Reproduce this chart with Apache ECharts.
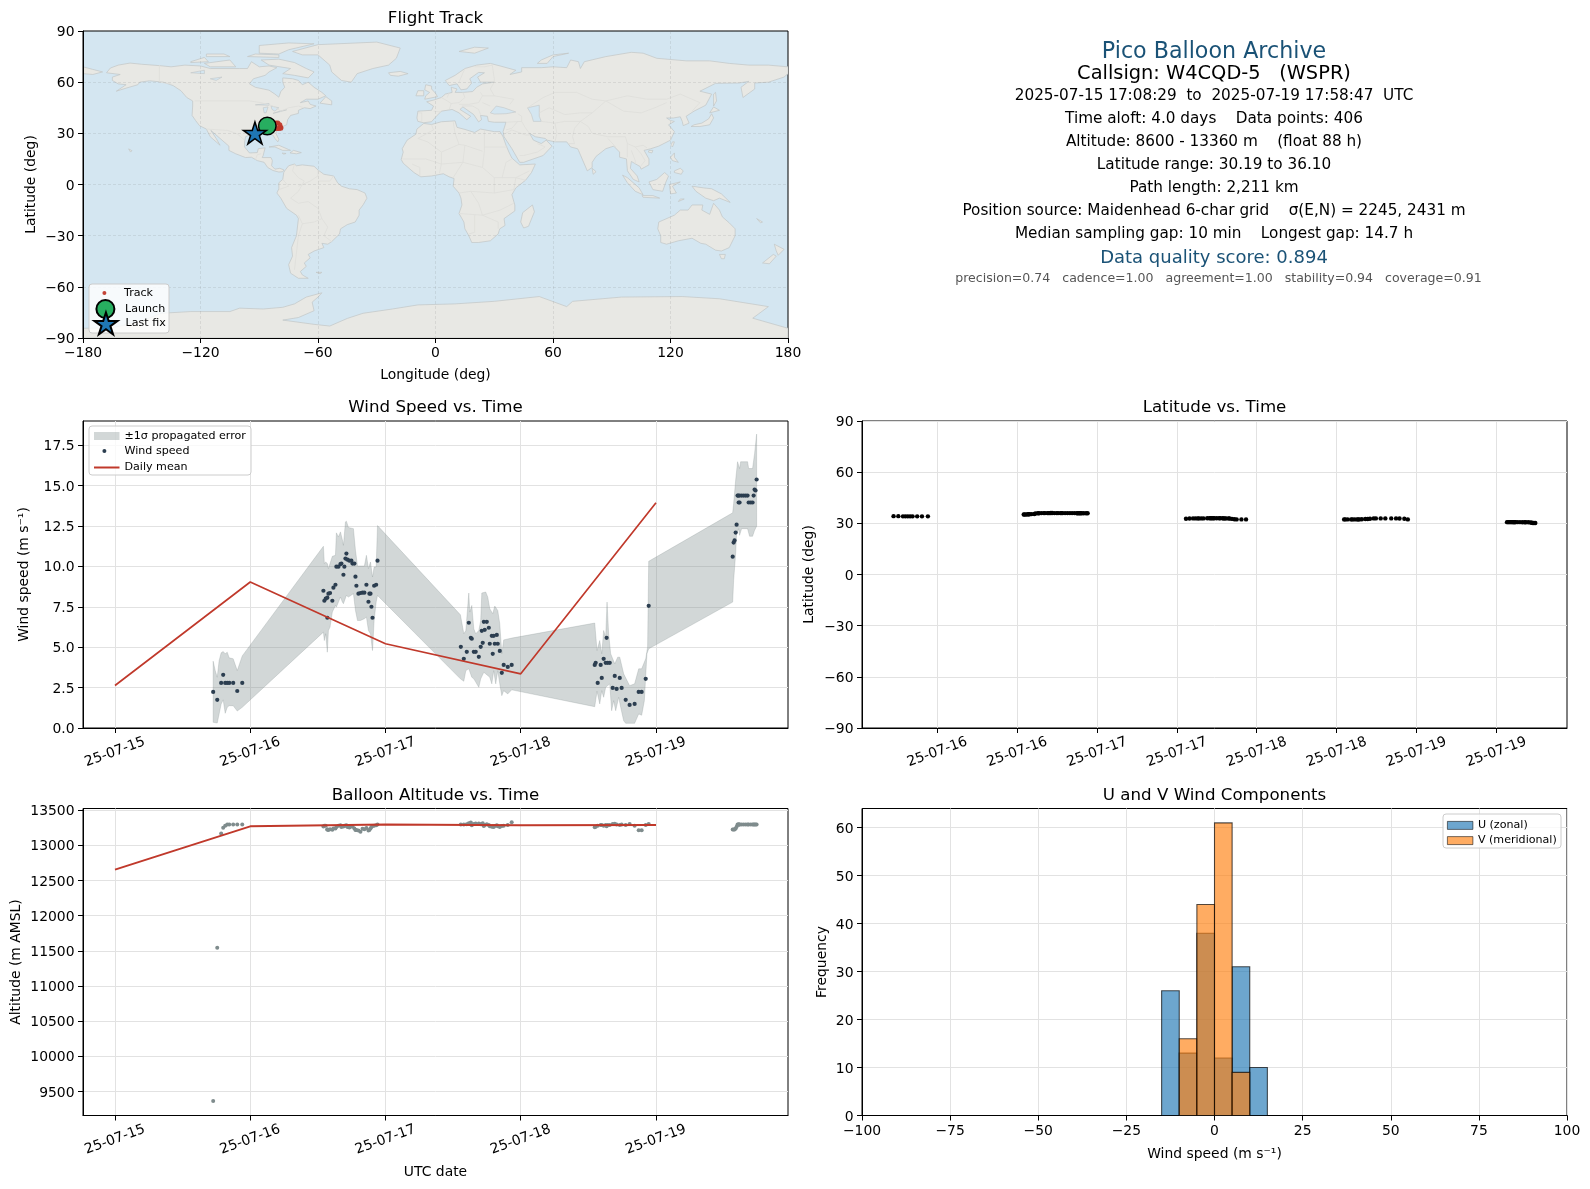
<!DOCTYPE html>
<html><head><meta charset="utf-8">
<style>html,body{margin:0;padding:0;background:#fff}#c{width:1590px;height:1189px}</style>
<script src="https://cdn.jsdelivr.net/npm/echarts@6/dist/echarts.min.js"></script>
</head><body><div id="c"></div>
<script>
// ---------- DATA ----------
const fixDays = [
 .726,.756,.785,.800,.815,.830,.845,.874,.904,.941,
 1.541,1.548,1.558,1.570,1.570,1.578,1.590,1.607,1.615,1.630,1.637,1.652,1.667,1.674,1.689,1.696,1.704,1.711,1.719,1.733,1.748,1.756,1.770,1.778,1.785,1.800,1.815,1.830,1.844,1.859,1.874,1.881,1.889,1.896,1.904,1.916,1.931,1.941,
 2.557,2.579,2.601,2.616,2.631,2.638,2.653,2.667,2.690,2.704,2.712,2.719,2.727,2.734,2.749,2.764,2.771,2.786,2.793,2.800,2.808,2.823,2.830,2.845,2.860,2.874,2.904,2.933,
 3.547,3.554,3.569,3.591,3.599,3.613,3.628,3.635,3.643,3.658,3.680,3.695,3.709,3.732,3.746,3.776,3.805,3.842,3.872,3.894,3.924,3.946,
 4.567,4.574,4.581,4.589,4.596,4.603,4.608,4.611,4.618,4.618,4.633,4.648,4.663,4.677,4.685,4.700,4.714,4.722,4.729,4.736,4.744];
const windSpeed = [
 2.23,1.74,2.79,3.29,2.79,2.79,2.79,2.79,2.29,2.79,
 8.49,7.87,8.0,8.06,6.82,8.31,8.35,7.87,8.68,8.86,9.98,9.98,10.14,10.17,9.48,9.98,10.48,10.79,10.41,10.35,10.35,10.17,10.17,9.36,8.80,8.31,8.35,8.37,8.37,8.86,7.81,8.31,8.31,7.50,6.82,8.80,8.86,10.35,
 5.02,4.28,4.71,6.51,5.58,5.52,4.71,4.71,4.40,5.02,6.01,5.27,6.57,6.07,6.57,6.20,5.21,5.70,4.59,5.70,5.21,5.76,5.21,4.77,3.41,3.90,3.78,3.90,
 3.90,4.03,2.79,3.90,3.10,4.28,4.03,5.58,4.03,4.03,2.48,3.22,2.42,3.10,2.48,1.74,1.43,1.49,2.23,2.23,3.04,7.56,
 10.6,11.47,11.6,12.09,12.58,14.38,14.38,13.95,13.95,14.38,14.38,14.38,14.38,14.38,13.95,13.95,13.95,14.38,14.75,14.69,15.37];
const latDeg = [
 34.2,34.2,34.1,34.1,34.1,34.1,34.1,34.1,34.1,34.1,
 35.2,35.2,35.2,35.3,35.3,35.3,35.4,35.5,35.8,35.9,35.9,36.0,36.0,36.0,36.0,36.0,36.0,36.1,36.1,36.0,36.0,36.0,36.0,36.0,36.0,36.0,36.0,36.0,36.0,36.0,35.9,35.9,35.9,35.9,35.9,35.9,35.9,35.9,
 32.7,32.8,32.9,32.9,32.9,32.9,32.9,32.9,33.0,33.0,33.0,33.0,33.0,33.0,33.0,33.0,33.0,33.0,32.9,32.9,32.9,32.9,32.8,32.6,32.4,32.3,32.3,32.3,
 32.3,32.3,32.3,32.3,32.3,32.3,32.3,32.3,32.3,32.4,32.5,32.5,32.7,32.9,32.9,32.9,32.9,32.9,32.9,32.8,32.7,32.3,
 30.7,30.7,30.7,30.7,30.7,30.7,30.7,30.7,30.7,30.7,30.7,30.7,30.6,30.6,30.6,30.6,30.5,30.3,30.2,30.2,30.19];
const altM = [
 9365,11545,13170,13250,13280,13295,13295,13295,13295,13295,
 13268,13278,13278,13225,13225,13220,13230,13222,13240,13240,13260,13278,13287,13260,13268,13278,13278,13287,13260,13255,13268,13268,13240,13220,13220,13210,13192,13235,13230,13245,13210,13220,13240,13260,13275,13280,13287,13295,
 13295,13295,13300,13315,13325,13285,13305,13310,13310,13300,13300,13315,13275,13290,13300,13290,13270,13265,13270,13260,13275,13285,13270,13260,13275,13280,13290,13330,
 13259,13264,13278,13288,13288,13278,13288,13273,13288,13288,13302,13307,13297,13288,13297,13288,13302,13278,13216,13216,13288,13302,
 13226,13226,13226,13240,13264,13297,13297,13297,13297,13297,13297,13297,13297,13297,13297,13297,13297,13297,13297,13297,13297];
const bandUpper = [[.726,4.13],[.741,3.55],[.756,3.14],[.770,4.17],[.785,4.65],[.800,4.73],[.815,4.59],[.830,4.69],[.844,4.34],[.874,4.28],[.904,3.55],[.941,4.46],
 [1.541,11.24],[1.548,10.17],[1.558,10.27],[1.570,10.17],[1.578,9.86],[1.590,10.17],[1.607,10.62],[1.630,10.68],[1.637,12.07],[1.652,11.82],[1.667,12.13],[1.681,11.65],[1.689,11.30],[1.704,12.75],[1.711,12.79],[1.726,12.40],[1.763,12.33],[1.778,10.99],[1.793,10.02],[1.815,10.02],[1.844,10.02],[1.859,10.68],[1.874,9.86],[1.889,10.27],[1.904,9.34],[1.916,9.96],[1.931,9.96],[1.941,12.52],
 [2.554,7.0],[2.579,5.83],[2.594,6.03],[2.616,8.35],[2.623,7.17],[2.638,7.58],[2.653,6.14],[2.667,5.83],[2.690,6.03],[2.704,6.65],[2.712,8.35],[2.741,8.41],[2.756,8.10],[2.771,7.38],[2.793,7.07],[2.808,7.54],[2.830,7.27],[2.845,6.45],[2.860,4.59],[2.874,5.45],[2.933,5.56],
 [3.547,6.49],[3.564,4.79],[3.584,5.41],[3.599,4.59],[3.613,6.03],[3.628,5.62],[3.638,7.79],[3.650,5.83],[3.665,4.59],[3.695,3.97],[3.717,4.38],[3.732,4.38],[3.761,3.35],[3.805,2.62],[3.842,2.73],[3.872,3.66],[3.894,3.66],[3.924,4.28],[3.938,5.0],[3.946,10.31],
 [4.567,13.31],[4.574,13.88],[4.589,15.33],[4.603,16.47],[4.618,16.05],[4.626,16.47],[4.677,16.47],[4.685,16.05],[4.714,16.05],[4.729,16.98],[4.744,18.18]];
const bandLower = [[.726,.35],[.756,.31],[.770,.87],[.785,1.49],[.800,1.74],[.815,.91],[.830,1.28],[.844,1.38],[.874,1.38],[.904,1.05],[.941,1.28],
 [1.541,5.93],[1.548,5.41],[1.558,5.83],[1.570,4.69],[1.578,6.03],[1.590,6.24],[1.607,7.17],[1.630,7.58],[1.637,7.48],[1.667,8.10],[1.681,7.79],[1.689,7.69],[1.711,8.20],[1.726,8.10],[1.763,8.31],[1.778,7.27],[1.793,6.65],[1.815,6.65],[1.844,6.76],[1.859,6.86],[1.874,6.03],[1.889,5.83],[1.904,4.79],[1.916,6.65],[1.931,7.79],[1.941,8.20],
 [2.554,3.04],[2.579,2.89],[2.594,3.55],[2.616,3.66],[2.638,3.14],[2.653,3.04],[2.690,2.52],[2.704,3.04],[2.727,3.45],[2.771,3.14],[2.786,2.73],[2.800,3.55],[2.815,2.73],[2.830,3.55],[2.845,2.73],[2.860,2.0],[2.874,2.31],[2.904,2.11],[2.933,2.36],
 [3.547,1.32],[3.564,2.27],[3.584,1.49],[3.599,2.31],[3.613,1.90],[3.628,2.52],[3.658,2.73],[3.672,1.07],[3.687,1.69],[3.702,1.07],[3.724,1.90],[3.739,1.28],[3.761,.45],[3.776,.29],[3.842,.29],[3.872,.87],[3.894,.79],[3.914,1.69],[3.933,4.59],[3.946,4.90],
 [4.567,7.79],[4.574,9.13],[4.589,10.79],[4.596,12.02],[4.611,12.33],[4.618,11.92],[4.633,12.33],[4.677,12.33],[4.692,11.86],[4.714,11.86],[4.729,12.23],[4.744,12.48]];
const meanDays = [0,1,2,3,4];
const windMean = [2.63,9.03,5.21,3.35,13.93];
const altMean = [12655,13270,13295,13285,13288];
const dayTickValues = [0,1,2,3,4];
const dayTickLabels = ['25-07-15','25-07-16','25-07-17','25-07-18','25-07-19'];
const latTickValues = [1,1.5,2,2.5,3,3.5,4,4.5];
const latTickLabels = ['25-07-16','25-07-16','25-07-17','25-07-17','25-07-18','25-07-18','25-07-19','25-07-19'];
const binEdges = [-15,-10,-5,0,5,10,15];
const uCounts = [26,13,38,12,31,10];
const vCounts = [0,16,44,61,9,0];
const trackLon = [-85.9,-84.5,-83,-82,-81.5,-80.5,-79.5,-79,-79,-80,-81,-82.5,-84,-85.5,-87,-88.5,-89.5,-91,-92.2];
const trackLat = [34.3,34.2,34.5,35.5,36.1,36,35,33.5,33,32.8,32.9,32.8,32.5,32.3,32.3,32.4,31.5,30.6,30.2];
const launchPoint = [-85.9,34.3];
const lastFixPoint = [-92.2,30.2];
const infoLines = [
 ['Pico Balloon Archive',52,22.2,'#1a5276',1214],
 ['Callsign: W4CQD-5   (WSPR)',74,19.4,'#000',1214],
 ['2025-07-15 17:08:29  to  2025-07-19 17:58:47  UTC',96,15.25,'#000',1214],
 ['Time aloft: 4.0 days    Data points: 406',119,15.25,'#000',1214],
 ['Altitude: 8600 - 13360 m    (float 88 h)',142,15.25,'#000',1214],
 ['Latitude range: 30.19 to 36.10',165,15.25,'#000',1214],
 ['Path length: 2,211 km',188,15.25,'#000',1214],
 ['Position source: Maidenhead 6-char grid    σ(E,N) = 2245, 2431 m',211,15.25,'#000',1214],
 ['Median sampling gap: 10 min    Longest gap: 14.7 h',234,15.25,'#000',1214],
 ['Data quality score: 0.894',258.5,18,'#1a5276',1214],
 ['precision=0.74   cadence=1.00   agreement=1.00   stability=0.94   coverage=0.91',279,12.55,'#555',1218.5],
];
const landPolys = [
 [[-168,65.5],[-166,68.3],[-162,70],[-156,71.2],[-150,70.5],[-141,69.7],[-135,69],[-128,70],[-120,69.5],[-115,68],[-108,68],[-100,68],[-96,68],[-94,72],[-90,69],[-85,69.5],[-81,68.5],[-85,66],[-87,64],[-93,62],[-95,59],[-92,57],[-85,55.3],[-82,53],[-80,51.2],[-79,54.5],[-77,57],[-78,60],[-78,62.5],[-73,62],[-70,61],[-68,58.5],[-65,60],[-62,57],[-58,54],[-56,52],[-60,50],[-66,50],[-69,48],[-65,49],[-64,47],[-61,46],[-64,44.5],[-67,45],[-70,43.5],[-70,41.7],[-74,40.5],[-75.5,38],[-76,35],[-78,34],[-81,31.5],[-81.5,30],[-80,26.5],[-80.5,25],[-82,27],[-83,29],[-85,29.7],[-89,30],[-90,29],[-94,29.5],[-97,28],[-97.5,25],[-97.5,22],[-95,18.5],[-91,18.7],[-90.5,21],[-87,21.5],[-88,17],[-88.5,15.8],[-84,15.8],[-83.3,14],[-83.7,11],[-82,9],[-79.5,9.5],[-77.3,8.5],[-78,7.5],[-80,7.3],[-83,8.2],[-85.7,10],[-87.5,13],[-91,14],[-94,16],[-97,15.8],[-102,18],[-105.5,20],[-105.5,22.5],[-109,26],[-112.5,29.5],[-114.7,31.7],[-112,27],[-110,23],[-112,25],[-115,28],[-117,32.5],[-120.5,34.5],[-122.5,37.5],[-124.3,40.5],[-124,46],[-124,49],[-127,51],[-130,55],[-134,58],[-139,60],[-146,60.8],[-151,60],[-152,58.5],[-158,56.5],[-163,54.7],[-158,58.5],[-162,59],[-165,61],[-165,63],[-161,64.5]],
 [[-180,65],[-175,64.5],[-170,66],[-175,67.5],[-180,69]],
 [[-73,78],[-60,82],[-30,83.5],[-18,80],[-20,74],[-24,70],[-32,68],[-40,65],[-43,60],[-48,61],[-53,66],[-54,70],[-60,76],[-68,76]],
 [[-80,73.5],[-72,71.5],[-66,68],[-62,66],[-65,62.5],[-72,64],[-78,65],[-74,68],[-85,70],[-89,73]],
 [[-118,71],[-105,73],[-102,69],[-115,69]],
 [[-90,77],[-80,76.5],[-75,79],[-62,82.5],[-75,83],[-90,81.5]],
 [[-125,72],[-118,74.5],[-116,72],[-125,71.5]],
 [[-96,75],[-80,74.5],[-80,76],[-92,76.5]],
 [[-117,75],[-105,75],[-108,76.5],[-117,76.5]],
 [[-59,47.7],[-53,46.7],[-53,49],[-56,51.5]],
 [[-85,22],[-80,23],[-75,20.5],[-74,20],[-78,20],[-82,22]],
 [[-74.3,18.5],[-72.5,20],[-68.5,18.7],[-71,18]],
 [[-78.3,18.4],[-76.3,18.2],[-77.5,17.8]],
 [[-156.7,20.9],[-155,19.8],[-155.7,19]],
 [[-77,8],[-75,11],[-72,12],[-71,11],[-68,11.5],[-62,10.7],[-60,8.5],[-57,6],[-52,5],[-50,1],[-48,-1],[-44,-2.5],[-40,-3],[-36,-5],[-35,-8],[-37,-12],[-39,-15],[-39,-18],[-41,-22],[-45,-23.5],[-48.5,-26],[-49,-29],[-53,-33.5],[-55,-35],[-58,-34.5],[-57,-37],[-62,-39],[-65,-41],[-64,-43],[-67,-46],[-66,-48],[-69,-51],[-68,-53],[-65,-55],[-70,-55],[-74,-52],[-75,-47],[-73,-42],[-73.5,-37],[-71,-30],[-70,-20],[-71,-18],[-76,-14],[-79,-8],[-81,-5],[-80,-2.5],[-80,1],[-78,3],[-77.5,7]],
 [[-6,35.8],[-2,35.2],[3,36.8],[10,37.3],[11,33.5],[15,32.3],[20,30.5],[23,32.5],[30,31],[33,31],[34.5,28],[36,23],[37.5,19],[39,15.5],[43,11.5],[51,12],[49,7],[46,2.5],[41,-2],[39,-6],[40.5,-12],[40.5,-15.5],[35,-20],[35.5,-24],[32.8,-26],[32,-29],[28,-33],[22,-34],[18.5,-34],[17,-30],[15,-26],[14.5,-22],[12,-17],[13.5,-12],[13,-8],[12,-5],[9,-1],[9.5,3.5],[7,4.5],[4,6.3],[-2,5],[-7.5,4.5],[-11,7],[-13.5,9.5],[-16.5,12.5],[-17.5,14.7],[-16.5,19],[-17,21],[-14.5,26],[-10,29.5],[-9.5,32.5]],
 [[49.5,-12],[50.5,-16],[47.5,-24.5],[45,-25.5],[43.5,-22],[44.5,-16.5]],
 [[-9,37],[-9.5,39],[-9,43],[-2,43.5],[-1,46],[-4.5,48.5],[-1,49.5],[3,51],[5,53],[8.5,54],[8,57],[11,56],[10,54],[14,54],[19,54.5],[21,57],[24,59],[30,60],[23,60],[21.5,63],[25,65.5],[22,65.7],[17.5,62],[18.5,59.5],[16,56],[13,55.5],[11,59],[7,58],[5,61],[10,64],[15,68],[21,70],[28,71],[33,69.5],[41,67],[38,64.5],[44,66],[44,68.5],[54,68.5],[60,69],[67,68.5],[69,73],[73,72],[74,68],[76,72],[87,75],[100,77.5],[106,77],[113,74],[128,72.5],[140,72.5],[150,71],[160,70],[170,70],[180,69],[180,65],[178,63],[170,60],[163,59.5],[163,56],[157,51],[156,57],[160,60.5],[155,59.5],[143,59.3],[135,54.7],[141,53],[138,46.5],[132,43],[128,40],[129.5,36],[126.5,34.5],[126,37],[125,39.7],[121.5,39],[118,39],[120,37.5],[122,37],[119,35],[122,31],[120,26],[114,22.5],[110,21],[106.5,20],[109,15],[109,11.5],[105,9],[104.5,10.5],[100,13.5],[99.5,9.5],[103,5],[104,1.5],[101,3],[98,8],[97.5,15],[94,16],[94,19],[91,22.5],[87,21],[82,16.5],[80,13],[80,10],[77.5,8],[73,20],[72.5,21],[69,22],[67,25],[61,25],[57,26],[56,27],[51,28],[48,30],[50,26],[54,24],[56.5,26],[59.5,22.5],[55,17],[45,13],[43,13],[39,21],[35,28],[34.5,31],[36,36.5],[30,36.5],[27,37],[26.5,40],[23,40.5],[23.5,38],[22,36.7],[19.5,41],[14,45.5],[12.5,44],[18,40],[16,38],[12,42],[8.5,44],[3,43],[0,39.5],[-2,36.8],[-6,36.2]],
 [[-5.5,50],[1,51.5],[0,53.5],[-2,56],[-2,57.7],[-5,58.5],[-5.5,55.5],[-3,54],[-5,52]],
 [[-10,52],[-6,52],[-6,55],[-9,55]],
 [[-24,65.5],[-18,66.3],[-14,65],[-19,63.5],[-23,64]],
 [[12,78],[20,80.5],[27,80],[20,77]],
 [[52,71],[57,71],[60,75],[68,77],[60,76],[54,73]],
 [[80,9.5],[82,7.5],[80.5,6]],
 [[130.5,34],[135,34],[140,35],[142,39],[141,41.5],[139.5,38.5],[136,36],[132,35]],
 [[140,42],[145,43.5],[142,45.5]],
 [[142,46],[143.5,49],[143,54],[142,53]],
 [[120.2,23],[121,22],[122,25],[121,25]],
 [[108.7,19],[110.5,18.5],[111,20],[109,20]],
 [[120,16],[122,18.5],[122,16],[124,13],[121,14]],
 [[122,7],[125.5,6],[126.5,8],[125,9.5],[122,8]],
 [[109,1.5],[113,3],[117,7],[119,5],[117.5,1],[116,-4],[111,-3]],
 [[95.5,5.5],[98,4],[104,-2],[106,-6],[102,-4],[98,1]],
 [[105.5,-6.5],[111,-6.5],[114.5,-8],[106,-7.5]],
 [[119.5,0],[125,1.5],[121,-1],[123,-5],[120,-5.5]],
 [[131,-1],[137,-2],[141,-2.5],[146,-5.5],[150.5,-10.5],[145,-8],[142,-9.5],[138,-8],[133,-4]],
 [[124,-10],[127,-8.5],[125,-8.5]],
 [[114,-22],[122,-18],[125,-15],[129,-15],[131,-12],[136.5,-12],[136,-15],[140,-17.5],[142,-11],[145,-15],[146.5,-19],[150,-22.5],[153,-26],[153,-30],[150,-37],[146,-39],[143,-38.5],[138,-35],[135.5,-34.5],[131,-31.5],[124,-33],[118,-35],[115,-34],[115,-30],[113.5,-26]],
 [[145,-41],[148,-41],[147.5,-43.5],[146,-43.5]],
 [[173,-35],[178,-38],[175,-41.5],[174,-39]],
 [[172.5,-41],[174,-42],[170.5,-46.5],[167,-46]],
 [[164,-20],[167,-22],[166,-22.5]],
 [[-61,-51.5],[-58,-51.5],[-59,-52.3]],
 [[-180,-84.3],[-165,-84],[-150,-80],[-140,-75.5],[-125,-74.5],[-105,-74.5],[-100,-72.5],[-88,-73],[-78,-72],[-72,-70],[-66,-66],[-58,-63.5],[-60,-66],[-63,-69],[-62,-74],[-70,-78],[-78,-79.5],[-62,-82],[-54,-83],[-45,-78.5],[-37,-75.5],[-22,-73],[-9,-70.6],[10,-70],[30,-68.5],[53,-65.7],[67,-71.6],[70,-68.5],[95,-66],[126,-65.7],[145,-67],[170,-71.6],[162,-78.4],[180,-84.3],[180,-90],[-180,-90]]
];
const lakePolys = [
 [[28,42],[31,46],[35,45],[41,42.5],[36,41.5],[30,41.3]],
 [[47,45],[53,46.5],[53,40],[54,37],[50,37],[49,41]],
 [[-92,46.7],[-85,47.5],[-85,46.5]],
 [[-88,45],[-85.5,45.5],[-86.5,42],[-87.5,42]],
 [[-84,46],[-80,45],[-82,43],[-83.5,44]],
 [[-83,41.7],[-79,42.8],[-76,43.8],[-79,43.2]],
 [[-125,65.5],[-118,67],[-118,65]],
 [[-115,62],[-109,63],[-112,61]]
];
const borderLines = [
 [[-123,49],[-95,49],[-89,48],[-83,46],[-79,43],[-75,45],[-70,46],[-67,45]],[[-141,70],[-141,60],[-135,59]],[[-117,32.5],[-106,31.7],[-101,29.5],[-97.5,26]],[[-92,14.5],[-91,17.5],[-89,18]],
 [[-72,12],[-73,8],[-70,4],[-67,2],[-70,-4]],[[-60,8.5],[-60,5],[-64,2],[-70,-1]],[[-52,5],[-54,2],[-60,2]],[[-70,-4],[-74,-8],[-70,-11],[-65,-10],[-60,-14],[-58,-20],[-55,-25],[-57,-30],[-53,-33.5]],[[-70,-18],[-68,-23],[-70,-30],[-71,-40],[-72,-50]],[[-80,-3],[-75,-1],[-78,3]],[[-68,-23],[-62,-22],[-58,-20]],
 [[-9,27],[-4,25],[3,19],[12,23.5],[10,30],[9,37]],[[-2,35],[-1,32],[-9,27]],[[25,32],[25,20],[24,10],[30,4],[34,4],[36,13],[39,15]],[[25,22],[37,22]],[[12,23.5],[15,23],[24,19.5]],[[15,23],[14,13],[9,4]],[[3,19],[3,12],[2,6.5]],[[-17,15],[-5,15],[3,12],[14,13]],[[-8,5],[-8,10],[-12,12]],[[14,13],[24,10]],[[12,-5],[18,-4],[30,-5],[30,4]],[[30,-5],[40,-3],[41,4],[46,2.5]],[[34,4],[41,4],[48,8]],[[12,-17],[24,-18],[33,-15],[40,-11]],[[20,-18],[20,-28],[17,-29]],[[24,-18],[32,-22],[32,-26]],[[18,-4],[22,-11],[24,-18]],
 [[-1,43],[3,42.5]],[[-7,37],[-7,42],[-9,42]],[[3,51],[6,49],[8,47.5],[7,44]],[[6,51],[7,54]],[[14,54],[15,51],[12,48],[8,47.5]],[[12,47],[17,47],[22,48],[24,52],[23,54]],[[13.5,46],[19,46],[22,44],[23,41]],[[28,46],[24,48]],[[28,56],[30,52],[24,52]],[[30,60],[28,56]],[[30,52],[40,50],[38,47]],[[29,70],[30,62],[30,60]],[[20,69],[25,69],[29,70]],[[12,60],[15,68]],
 [[47,45],[55,51],[61,54],[72,54],[80,50],[87,49]],[[53,42],[58,45],[66,41],[74,42],[80,42],[87,49]],[[87,49],[98,52],[108,50],[118,50],[125,53],[135,48],[131,43]],[[87,49],[96,43],[105,42],[112,45],[118,48]],[[80,42],[74,37],[78,34],[80,30],[88,28],[97,28],[98,24],[102,22],[106,23],[108,21.5]],[[61,36],[66,37],[74,37]],[[61,25],[62,30],[61,36],[54,37]],[[74,37],[71,33],[70,28],[71,24],[68,24]],[[88,27],[92,22]],[[98,24],[98,16]],[[102,22],[105,18],[107,14],[105,11]],[[100,20],[102,14],[102,12]],[[36,36.5],[44,37],[44,40],[42,41.5]],[[44,37],[46,33],[48,30]],[[36,32],[39,33],[42,37]],[[35,29.5],[39,32],[46,29],[48,29]],[[52,24],[56,22],[52,19],[45,17],[43,17]]
];
// ---------- STYLE ----------
const FONT = '"DejaVu Sans"';
const GRID_C = '#e2e2e2';
const POS = {map:{left:83,top:31,width:705,height:307}, wind:{left:83,top:421,width:705,height:307}, lat:{left:862,top:421,width:705,height:307}, alt:{left:83,top:808.5,width:705,height:307}, hist:{left:862,top:808.5,width:705,height:307}};
const grids = ['map','wind','lat','alt','hist'].map(k=>({...POS[k],show:true,borderColor:'#000',borderWidth:1,backgroundColor:k==='map'?'#d4e6f1':'transparent'}));
const minus = v=>String(v).replace('-','\u2212');
function axis(o){
 const gc=o.gc||{show:true,lineStyle:{color:GRID_C,width:1}};
 const f=o.fmt||minus;
 return {type:'value',gridIndex:o.g,min:o.min,max:o.max,name:o.name,nameLocation:'middle',nameGap:o.gap,
  nameTextStyle:{fontFamily:FONT,fontSize:13.9,color:'#000'},z:o.z,
  axisLine:{show:true,onZero:false,lineStyle:{color:'#000',width:1}},
  axisTick:{show:true,length:5,customValues:o.ticks,lineStyle:{color:'#000',width:1}},
  splitLine:gc,minorTick:{show:false},
  axisLabel:{customValues:o.ticks,interval:0,showMinLabel:true,showMaxLabel:true,hideOverlap:false,fontFamily:FONT,fontSize:13.9,color:'#000',margin:o.margin||8.5,rotate:o.rotate||0,align:o.rotate?'center':undefined,verticalAlign:o.rotate?'middle':undefined,
   rich:o.yLabel?{t:{fontFamily:FONT,fontSize:13.9,color:'#000',padding:[3,0,0,0]}}:undefined,
   formatter:o.yLabel?(v=>'{t|'+f(v)+'}'):f}};
}
const dateFmt=(vals,labs)=>v=>{const i=vals.findIndex(t=>Math.abs(t-v)<1e-6);return i<0?'':labs[i];};
const WIND_X=[-.2365,4.976], LAT_X=[.5285,4.9425];
const mapGrid={show:true,lineStyle:{color:'rgba(120,120,120,.2)',width:.8,type:[3,2]}};
const xAxes=[
 axis({g:0,min:-180,max:180,ticks:[-180,-120,-60,0,60,120,180],name:'Longitude (deg)',gap:30,gc:mapGrid,z:2}),
 axis({g:1,min:WIND_X[0],max:WIND_X[1],ticks:dayTickValues,rotate:20,margin:24,fmt:dateFmt(dayTickValues,dayTickLabels)}),
 axis({g:2,min:LAT_X[0],max:LAT_X[1],ticks:latTickValues,rotate:20,margin:24,fmt:dateFmt(latTickValues,latTickLabels)}),
 axis({g:3,min:WIND_X[0],max:WIND_X[1],ticks:dayTickValues,rotate:20,margin:24,fmt:dateFmt(dayTickValues,dayTickLabels),name:'UTC date',gap:50}),
 axis({g:4,min:-100,max:100,ticks:[-100,-75,-50,-25,0,25,50,75,100],name:'Wind speed (m s\u207B\u00B9)',gap:32})
];
const yAxes=[
 axis({g:0,yLabel:1,min:-90,max:90,ticks:[-90,-60,-30,0,30,60,90],name:'Latitude (deg)',gap:45,gc:mapGrid,z:2}),
 axis({g:1,yLabel:1,min:0,max:18.99,ticks:[0,2.5,5,7.5,10,12.5,15,17.5],name:'Wind speed (m s\u207B\u00B9)',gap:52,fmt:v=>v.toFixed(1)}),
 axis({g:2,yLabel:1,min:-90,max:90,ticks:[-90,-60,-30,0,30,60,90],name:'Latitude (deg)',gap:46,fmt:minus}),
 axis({g:3,yLabel:1,min:9158,max:13524,ticks:[9500,10000,10500,11000,11500,12000,12500,13000,13500],name:'Altitude (m AMSL)',gap:60}),
 axis({g:4,yLabel:1,min:0,max:64,ticks:[0,10,20,30,40,50,60],name:'Frequency',gap:33})
];
const polyRender=(polys,style)=>(p,api)=>({type:'polygon',shape:{points:polys[p.dataIndex].map(q=>api.coord(q))},style});
const STAR='path://M50 2 L61.2 36.6 L97.6 36.6 L68.2 58 L79.4 92.6 L50 71.2 L20.6 92.6 L31.8 58 L2.4 36.6 L38.8 36.6 Z';
const RED='#c0392b', NAVY='#2c3e50', STEEL='#7f8c8d';
const BAND_FILL='rgba(127,140,141,.35)';
const base={silent:true,animation:false,emphasis:{disabled:true}};
const zip=(a,b)=>a.map((v,i)=>[v,b[i]]);
const histRender=(fill)=>(p,api)=>{const a=api.coord([api.value(0),api.value(1)]),b=api.coord([api.value(2),0]);
 return {type:'rect',shape:{x:a[0],y:a[1],width:b[0]-a[0],height:b[1]-a[1]},style:{fill,stroke:'rgba(0,0,0,.68)',lineWidth:1.1}};};
const histData=c=>c.map((v,i)=>[binEdges[i],v,binEdges[i+1]]).filter(d=>d[1]>0);
const series=[
 {...base,type:'custom',name:'land',xAxisIndex:0,yAxisIndex:0,z:1,clip:true,data:landPolys.map(p=>p[0]),renderItem:polyRender(landPolys,{fill:'#e8e8e4',stroke:'#c2c6c6',lineWidth:.7})},
 {...base,type:'custom',name:'lakes',xAxisIndex:0,yAxisIndex:0,z:1,clip:true,data:lakePolys.map(p=>p[0]),renderItem:polyRender(lakePolys,{fill:'#d4e6f1',stroke:'#c2c6c6',lineWidth:.6})},
 {...base,type:'custom',name:'borders',xAxisIndex:0,yAxisIndex:0,z:1,clip:true,data:borderLines.map(p=>p[0]),
  renderItem:(p,api)=>({type:'polyline',shape:{points:borderLines[p.dataIndex].map(q=>api.coord(q))},style:{fill:null,stroke:'#dedeDa',lineWidth:.8}})},
 {...base,type:'scatter',name:'Track',xAxisIndex:0,yAxisIndex:0,z:3,symbolSize:5,itemStyle:{color:RED,opacity:.95},data:zip(trackLon,trackLat)},
 {...base,type:'scatter',name:'Launch',xAxisIndex:0,yAxisIndex:0,z:4,symbolSize:17.5,itemStyle:{color:'#27ae60',borderColor:'#000',borderWidth:1.5,opacity:1},data:[launchPoint]},
 {...base,type:'scatter',name:'Last fix',xAxisIndex:0,yAxisIndex:0,z:5,symbol:STAR,symbolKeepAspect:true,symbolSize:23,itemStyle:{color:'#1f77b4',borderColor:'#000',borderWidth:1.5,opacity:1},data:[lastFixPoint]},

 {...base,type:'custom',name:'\u00B11\u03C3 propagated error',xAxisIndex:1,yAxisIndex:1,z:1,clip:true,itemStyle:{color:BAND_FILL},data:[bandUpper[0]],
  renderItem:(p,api)=>({type:'polygon',shape:{points:bandUpper.concat(bandLower.slice().reverse()).map(q=>api.coord(q))},style:{fill:BAND_FILL,stroke:'rgba(127,140,141,.25)',lineWidth:1}})},
 {...base,type:'scatter',name:'Wind speed',xAxisIndex:1,yAxisIndex:1,z:2,symbolSize:4.2,itemStyle:{color:NAVY,opacity:1},data:zip(fixDays,windSpeed)},
 {...base,type:'line',name:'Daily mean',xAxisIndex:1,yAxisIndex:1,z:3,showSymbol:false,symbol:'none',lineStyle:{color:RED,width:1.7},itemStyle:{color:RED},data:zip(meanDays,windMean)},

 {...base,type:'scatter',name:'lat',xAxisIndex:2,yAxisIndex:2,z:2,symbolSize:4.4,itemStyle:{color:'#000',opacity:1},data:zip(fixDays,latDeg)},

 {...base,type:'scatter',name:'alt',xAxisIndex:3,yAxisIndex:3,z:2,symbolSize:4,itemStyle:{color:STEEL,opacity:1},data:zip(fixDays,altM)},
 {...base,type:'line',name:'altMean',xAxisIndex:3,yAxisIndex:3,z:3,showSymbol:false,symbol:'none',lineStyle:{color:RED,width:2},data:zip(meanDays,altMean)},

 {...base,type:'custom',name:'U (zonal)',xAxisIndex:4,yAxisIndex:4,z:2,clip:true,encode:{x:[0,2],y:1},itemStyle:{color:'rgba(31,119,180,.65)',borderColor:'rgba(0,0,0,.68)',borderWidth:1},data:histData(uCounts),renderItem:histRender('rgba(31,119,180,.65)')},
 {...base,type:'custom',name:'V (meridional)',xAxisIndex:4,yAxisIndex:4,z:3,clip:true,encode:{x:[0,2],y:1},itemStyle:{color:'rgba(255,127,14,.65)',borderColor:'rgba(0,0,0,.68)',borderWidth:1},data:histData(vCounts),renderItem:histRender('rgba(255,127,14,.65)')}
];
const LT={fontFamily:FONT,fontSize:11.1,color:'#000'};
// round symbols: the legend aligns to the symbol's own box, so left and width follow from symbol centre and text start
function legRound(name,cx,cy,textX,h){
 return {show:true,selectedMode:false,left:cx-h/2,top:h>14?cy-h/2:cy-4.5,padding:0,itemWidth:2*(textX-cx-5),itemHeight:h,symbolKeepAspect:true,textStyle:LT,data:[{name}],z:50};
}
function legRect(name,left,cy,textX,h,style){
 const d={name,icon:'rect'}; if(style) d.itemStyle=style;
 return {show:true,selectedMode:false,left,top:cy-4.5,padding:0,itemWidth:textX-left-5,itemHeight:h,textStyle:LT,data:[d],z:50};
}
const legends=[
 legRound('Track',104.4,292,124,4),legRound('Launch',104.4,308,124,18),legRound('Last fix',104.4,322.5,124,22),
 legRect('\u00B11\u03C3 propagated error',94,435,124.5,8),legRound('Wind speed',104.4,450,124.5,4),
 legRect('Daily mean',94,466.5,124.5,2,{color:RED}),
 legRect('U (zonal)',1447,824.4,1477.5,8,{borderWidth:.8}),legRect('V (meridional)',1447,839.6,1477.5,8,{borderWidth:.8})
];
const box=(x,y,w,h,fill)=>({type:'rect',z:3,silent:true,shape:{x,y,width:w,height:h,r:3},style:{fill,stroke:'#cccccc',lineWidth:1}});
const texts=infoLines.map(l=>({type:'text',silent:true,x:l[4],y:l[1],style:{text:l[0],fontFamily:FONT,fontSize:l[2],fill:l[3],align:'center',verticalAlign:'middle'}}));
const mkTitle=(text,k,y)=>({text,left:POS[k].left+POS[k].width/2,top:y,textAlign:'center',padding:0,textStyle:{fontFamily:FONT,fontSize:16.67,fontWeight:'normal',color:'#000'}});
const chart=echarts.init(document.getElementById('c'),null,{renderer:'canvas',width:1590,height:1189});
chart.setOption({
 animation:false,backgroundColor:'#fff',tooltip:{show:false},
 title:[mkTitle('Flight Track','map',10.5),mkTitle('Wind Speed vs. Time','wind',399),mkTitle('Latitude vs. Time','lat',399),mkTitle('Balloon Altitude vs. Time','alt',787),mkTitle('U and V Wind Components','hist',787)],
 grid:grids,xAxis:xAxes,yAxis:yAxes,series,legend:legends,
 graphic:{elements:[box(89,284,80,49,'rgba(255,255,255,.8)'),box(89,426,162,49,'rgba(255,255,255,.8)'),box(1443,814,118,34,'rgba(255,255,255,.8)'),...texts]}
});
</script></body></html>
